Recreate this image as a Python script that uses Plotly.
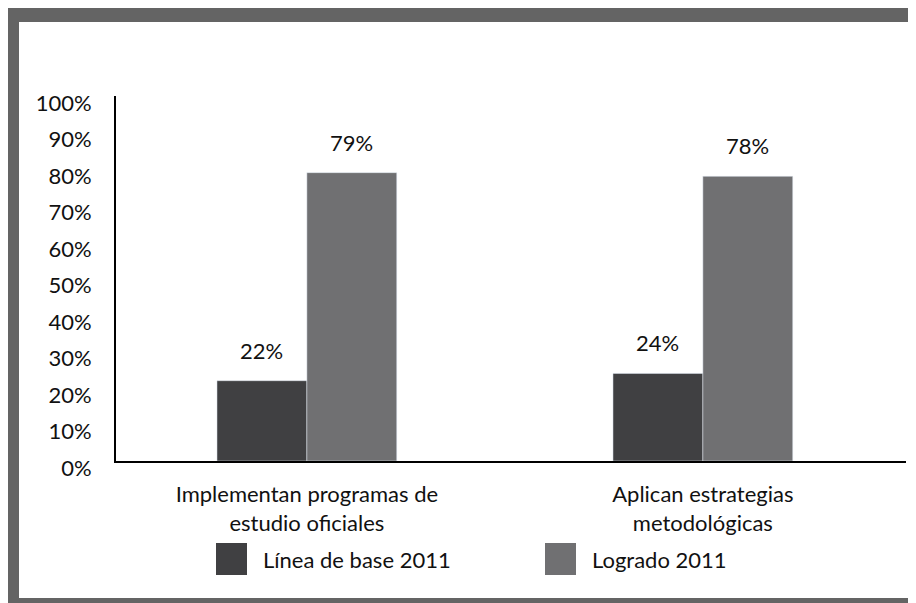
import plotly.graph_objects as go

categories = ["Implementan programas de<br>estudio oficiales", "Aplican estrategias<br>metodológicas"]
series_names = ["Línea de base 2011", "Logrado 2011"]
linea_base = [0.22, 0.24]
logrado = [0.79, 0.78]
colors = ["#404042", "#707072"]
y_ticks = [i / 10 for i in range(11)]

FONT = "Lato"
FS = 22
# page body has an 8px margin; figure sized to fit the window
OFF = 8
W, H = 916 - OFF, 603 - OFF
ML, MR, MT, MB = 116 - OFF, 10, 96 - OFF, 603 - 461
PW, PH = W - ML - MR, H - MT - MB

bar_w = 0.227
xpos = list(range(len(categories)))

fig = go.Figure()
for vals, name, col, off in [(linea_base, series_names[0], colors[0], -bar_w),
                             (logrado, series_names[1], colors[1], 0.0)]:
    fig.add_trace(go.Bar(x=xpos, y=vals, name=name, marker_color=col,
                         width=bar_w, offset=off, showlegend=False))
    for xi, v in zip(xpos, vals):
        fig.add_annotation(x=xi + off + bar_w / 2, y=v, text=f"{round(v*100)}%",
                           showarrow=False, yanchor="bottom", yshift=15,
                           font=dict(family=FONT, size=FS, color="#111"))

# helpers: convert page pixel positions (as seen in the screenshot) to paper coords
def px_x(p):
    return (p - OFF - ML) / PW

def px_y(p):
    return (H - MB - (p - OFF)) / PH

shapes = [
    dict(type="rect", xref="paper", yref="paper", layer="below",
         x0=px_x(0), x1=px_x(940), y0=px_y(0), y1=px_y(640),
         fillcolor="#646464", line_width=0),
    dict(type="rect", xref="paper", yref="paper", layer="below",
         x0=px_x(19), x1=px_x(914), y0=px_y(22), y1=px_y(598),
         fillcolor="white", line_width=0),
]
leg_x = [216, 545]
for i, (name, col) in enumerate(zip(series_names, colors)):
    shapes.append(dict(type="rect", xref="paper", yref="paper",
                       x0=px_x(leg_x[i]), x1=px_x(leg_x[i] + 31),
                       y0=px_y(543), y1=px_y(575), fillcolor=col, line_width=0))
    fig.add_annotation(xref="paper", yref="paper", x=px_x(leg_x[i] + 45), y=px_y(559),
                       text=name, showarrow=False, xanchor="left", yanchor="middle",
                       font=dict(family=FONT, size=FS, color="#111"))

fig.update_layout(
    width=W, height=H,
    margin=dict(l=ML, r=MR, t=MT, b=MB),
    paper_bgcolor="white", plot_bgcolor="rgba(0,0,0,0)",
    shapes=shapes, showlegend=False,
    font=dict(family=FONT, size=FS, color="#111"),
)
fig.update_xaxes(range=[-0.482, 1.513], tickvals=xpos, ticktext=categories,
                 showline=True, linecolor="black", linewidth=2, showgrid=False,
                 zeroline=False, ticks="", ticklabelstandoff=13,
                 tickfont=dict(family=FONT, size=FS, color="#111"))
fig.update_yaxes(range=[0, 1], tickvals=y_ticks, tickformat=".0%",
                 showline=True, linecolor="black", linewidth=2, showgrid=False,
                 zeroline=False, ticks="", ticklabelstandoff=18, ticklabelshift=7,
                 tickfont=dict(family=FONT, size=FS, color="#111"))

fig.write_html("out.html")
